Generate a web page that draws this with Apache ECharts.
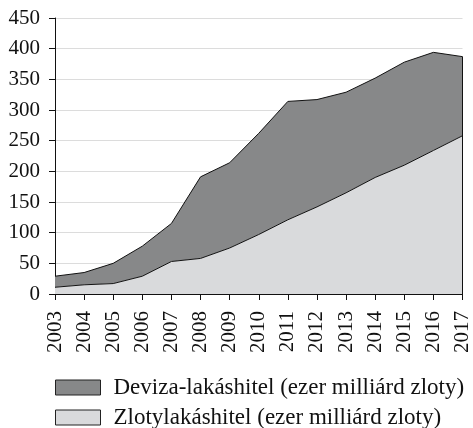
<!DOCTYPE html>
<html><head><meta charset="utf-8">
<script src="https://cdn.jsdelivr.net/npm/echarts@6/dist/echarts.min.js"></script>
<style>html,body{margin:0;padding:0;background:#fff}#c{width:473px;height:428px}</style>
</head><body><div id="c"></div>
<script>
const years = ['2003','2004','2005','2006','2007','2008','2009','2010','2011','2012','2013','2014','2015','2016','2017'];
const zloty = [11,15,17,29,53,58,75,97,121,142,165,190,210,234,258];
const deviza = [18,20,33,49,62,133,139,165,193,175,164,162,168,160,129];
const yTicks = [0,50,100,150,200,250,300,350,400,450];
const nameDeviza = 'Deviza-lakáshitel (ezer milliárd zloty)';
const nameZloty = 'Zlotylakáshitel (ezer milliárd zloty)';
const font = 'Liberation Serif';
const lastIdx = years.length - 1;
const total = zloty.map((v,i)=>v+deviza[i]);

const legendBase = {
  orient:'horizontal', left:55, padding:0, itemWidth:45, itemHeight:15, icon:'rect',
  textStyle:{fontFamily:font, fontSize:23, color:'#111', padding:[0,0,0,8]},
  itemStyle:{borderColor:'#222', borderWidth:1}
};

const chart = echarts.init(document.getElementById('c'), null, {renderer:'canvas'});
chart.setOption({
  animation:false,
  textStyle:{fontFamily:font},
  grid:{left:55,right:8,top:18,bottom:134,containLabel:false},
  legend:[
    Object.assign({}, legendBase, {top:376, data:[nameDeviza]}),
    Object.assign({}, legendBase, {top:406, data:[nameZloty]})
  ],
  xAxis:{
    type:'category', data:years, boundaryGap:false,
    axisLine:{lineStyle:{color:'#111',width:1}},
    axisTick:{show:true,length:6,lineStyle:{color:'#111'}},
    axisLabel:{rotate:90,fontFamily:font,fontSize:21,color:'#111',margin:17,interval:0},
    splitLine:{show:false}
  },
  yAxis:{
    type:'value', min:yTicks[0], max:yTicks[yTicks.length-1], interval:50,
    axisLine:{show:true,lineStyle:{color:'#111',width:1}},
    axisTick:{show:true,length:6,lineStyle:{color:'#111'}},
    axisLabel:{fontFamily:font,fontSize:21,color:'#111',margin:15},
    splitLine:{show:true,lineStyle:{color:'#dcdcdc',width:1}}
  },
  series:[
    {name:nameZloty,type:'line',stack:'t',data:zloty,symbol:'none',
     lineStyle:{color:'#111',width:1},areaStyle:{color:'#d9dadc',opacity:1},
     itemStyle:{color:'#d9dadc'}, z:3},
    {name:nameDeviza,type:'line',stack:'t',data:deviza,symbol:'none',
     lineStyle:{color:'#111',width:1},areaStyle:{color:'#878889',opacity:1},
     itemStyle:{color:'#878889'}, z:2,
     markLine:{symbol:'none',silent:true,label:{show:false},
       lineStyle:{color:'#111',width:1,type:'solid'},
       data:[[{coord:[years[lastIdx],0]},{coord:[years[lastIdx],total[lastIdx]]}]]}}
  ]
});
</script></body></html>
